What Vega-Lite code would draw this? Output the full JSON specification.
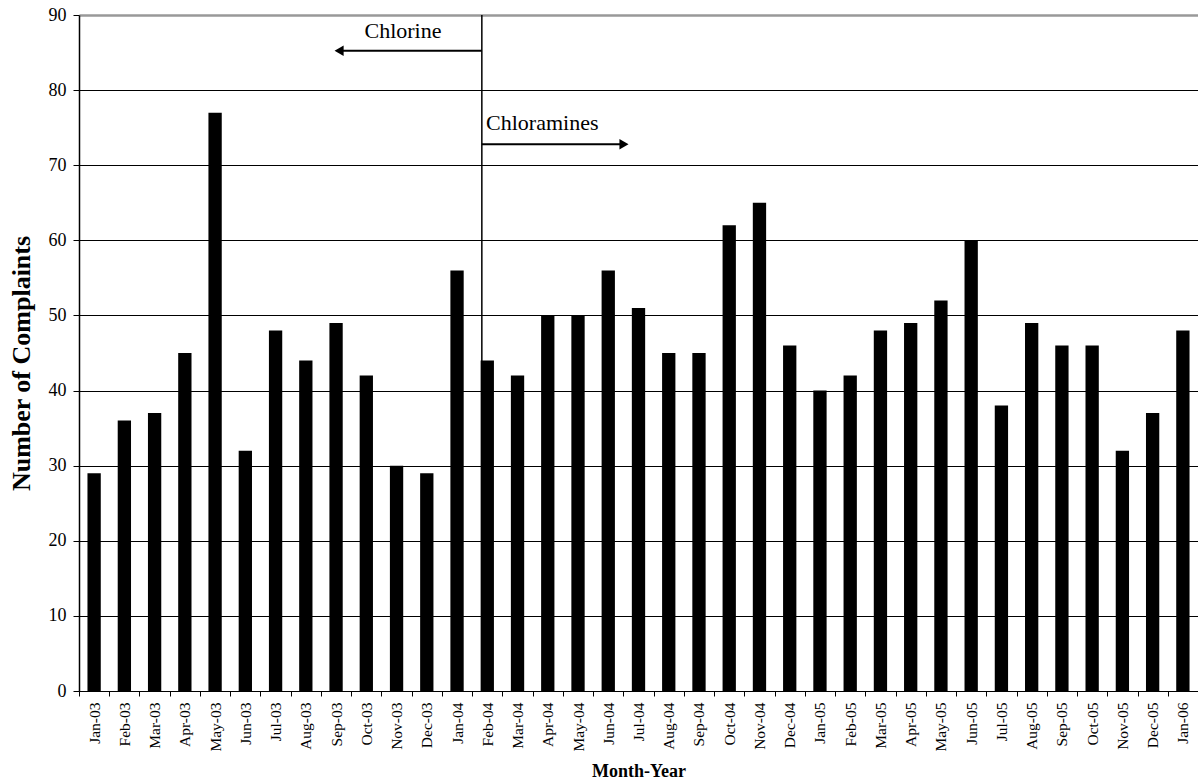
{
  "$schema": "https://vega.github.io/schema/vega-lite/v6.json",
  "width": 1119,
  "height": 676,
  "autosize": {"type": "none"},
  "padding": {"left": 79, "top": 15, "right": 0, "bottom": 90},
  "background": "white",
  "config": {
    "font": "Liberation Serif",
    "view": {"stroke": null},
    "axis": {"labelFont": "Liberation Serif", "titleFont": "Liberation Serif", "labelColor": "black", "titleColor": "black", "domainColor": "black", "tickColor": "black"}
  },
  "datasets": {
    "complaints": [
      {"month": "Jan-03", "count": 29}, {"month": "Feb-03", "count": 36}, {"month": "Mar-03", "count": 37},
      {"month": "Apr-03", "count": 45}, {"month": "May-03", "count": 77}, {"month": "Jun-03", "count": 32},
      {"month": "Jul-03", "count": 48}, {"month": "Aug-03", "count": 44}, {"month": "Sep-03", "count": 49},
      {"month": "Oct-03", "count": 42}, {"month": "Nov-03", "count": 30}, {"month": "Dec-03", "count": 29},
      {"month": "Jan-04", "count": 56}, {"month": "Feb-04", "count": 44}, {"month": "Mar-04", "count": 42},
      {"month": "Apr-04", "count": 50}, {"month": "May-04", "count": 50}, {"month": "Jun-04", "count": 56},
      {"month": "Jul-04", "count": 51}, {"month": "Aug-04", "count": 45}, {"month": "Sep-04", "count": 45},
      {"month": "Oct-04", "count": 62}, {"month": "Nov-04", "count": 65}, {"month": "Dec-04", "count": 46},
      {"month": "Jan-05", "count": 40}, {"month": "Feb-05", "count": 42}, {"month": "Mar-05", "count": 48},
      {"month": "Apr-05", "count": 49}, {"month": "May-05", "count": 52}, {"month": "Jun-05", "count": 60},
      {"month": "Jul-05", "count": 38}, {"month": "Aug-05", "count": 49}, {"month": "Sep-05", "count": 46},
      {"month": "Oct-05", "count": 46}, {"month": "Nov-05", "count": 32}, {"month": "Dec-05", "count": 37},
      {"month": "Jan-06", "count": 48}
    ],
    "vline": [{"pos": 13.32, "lo": 0, "hi": 90}],
    "arrows": [
      {"from": 13.32, "to": 8.6, "level": 85.25},
      {"from": 13.32, "to": 18.02, "level": 72.79}
    ],
    "heads": [
      {"pos": 8.6, "level": 85.25, "shape": "triangle-left"},
      {"pos": 18.02, "level": 72.79, "shape": "triangle-right"}
    ],
    "labels": [
      {"pos": 9.44, "level": 86.9, "text": "Chlorine"},
      {"pos": 13.46, "level": 74.69, "text": "Chloramines"}
    ]
  },
  "layer": [
    {
      "data": {"name": "complaints"},
      "mark": {"type": "bar", "color": "black", "width": {"band": 0.44}},
      "encoding": {
        "x": {
          "field": "month", "type": "nominal", "sort": null,
          "scale": {"paddingInner": 0, "paddingOuter": 0},
          "axis": {
            "title": "Month-Year", "titleFontSize": 18, "titleFontWeight": "bold",
            "titleBaseline": "alphabetic", "titleY": 85,
            "labelAngle": -90, "labelFontSize": 15.5, "labelPadding": 6,
            "tickBand": "extent", "tickSize": 5, "domainWidth": 1, "grid": false
          }
        },
        "y": {
          "field": "count", "type": "quantitative",
          "scale": {"domain": [0, 90], "nice": false},
          "axis": {
            "title": "Number of Complaints", "titleFontSize": 26, "titleFontWeight": "bold",
            "titlePadding": 14, "titleY": 348,
            "values": [0, 10, 20, 30, 40, 50, 60, 70, 80, 90],
            "labelFontSize": 18, "labelPadding": 7, "tickSize": 6,
            "domainWidth": 1.5,
            "grid": true,
            "gridColor": {"condition": {"test": "datum.value === 90", "value": "#999999"}, "value": "black"},
            "gridWidth": {"condition": {"test": "datum.value === 90", "value": 2.5}, "value": 1},
            "gridOpacity": 1
          }
        }
      }
    },
    {
      "data": {"name": "vline"},
      "mark": {"type": "rule", "color": "black", "strokeWidth": 1.5},
      "encoding": {
        "x": {"field": "pos", "type": "quantitative", "scale": {"domain": [0, 37], "nice": false, "zero": false}, "axis": null},
        "y": {"field": "lo", "type": "quantitative"},
        "y2": {"field": "hi"}
      }
    },
    {
      "data": {"name": "arrows"},
      "mark": {"type": "rule", "color": "black", "strokeWidth": 2},
      "encoding": {
        "x": {"field": "from", "type": "quantitative", "scale": {"domain": [0, 37], "nice": false, "zero": false}, "axis": null},
        "x2": {"field": "to"},
        "y": {"field": "level", "type": "quantitative"}
      }
    },
    {
      "data": {"name": "heads"},
      "mark": {"type": "point", "filled": true, "color": "black", "opacity": 1, "size": 110},
      "encoding": {
        "x": {"field": "pos", "type": "quantitative", "scale": {"domain": [0, 37], "nice": false, "zero": false}, "axis": null},
        "y": {"field": "level", "type": "quantitative"},
        "shape": {"field": "shape", "type": "nominal", "scale": null, "legend": null}
      }
    },
    {
      "data": {"name": "labels"},
      "mark": {"type": "text", "align": "left", "baseline": "alphabetic", "fontSize": 22, "font": "Liberation Serif", "color": "black"},
      "encoding": {
        "x": {"field": "pos", "type": "quantitative", "scale": {"domain": [0, 37], "nice": false, "zero": false}, "axis": null},
        "y": {"field": "level", "type": "quantitative"},
        "text": {"field": "text"}
      }
    }
  ],
  "resolve": {"scale": {"x": "independent"}}
}
